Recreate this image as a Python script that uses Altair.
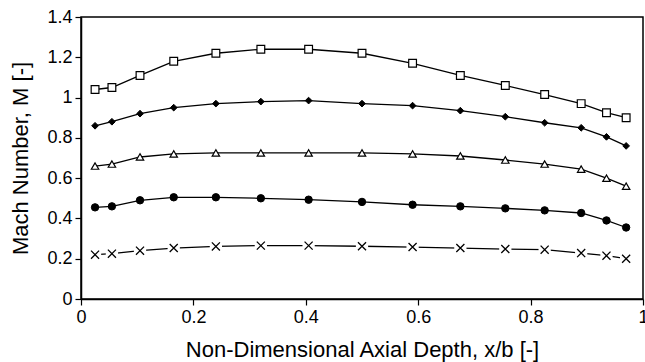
import altair as alt
import pandas as pd

# Axial positions of the measurement stations (x/b)
x_b = [0.025, 0.055, 0.105, 0.165, 0.24, 0.32, 0.405, 0.5,
       0.59, 0.675, 0.755, 0.825, 0.89, 0.935, 0.97]

# Mach number profiles, one per operating condition
mach_square = [1.04, 1.05, 1.11, 1.18, 1.22, 1.24, 1.24, 1.22,
               1.17, 1.11, 1.06, 1.015, 0.97, 0.925, 0.90]
mach_diamond = [0.86, 0.88, 0.92, 0.95, 0.97, 0.98, 0.985, 0.97,
                0.96, 0.935, 0.905, 0.875, 0.85, 0.805, 0.76]
mach_triangle = [0.66, 0.67, 0.705, 0.72, 0.725, 0.725, 0.725, 0.725,
                 0.72, 0.71, 0.69, 0.67, 0.645, 0.60, 0.56]
mach_circle = [0.455, 0.46, 0.49, 0.505, 0.505, 0.50, 0.493, 0.482,
               0.468, 0.46, 0.45, 0.44, 0.427, 0.39, 0.355]
mach_cross = [0.22, 0.225, 0.24, 0.253, 0.261, 0.265, 0.265, 0.262,
              0.258, 0.253, 0.248, 0.245, 0.228, 0.215, 0.20]

series = {
    "square": mach_square,
    "diamond": mach_diamond,
    "triangle": mach_triangle,
    "circle": mach_circle,
    "cross": mach_cross,
}

rows = []
for name, vals in series.items():
    for xv, mv in zip(x_b, vals):
        rows.append({"series": name, "x": xv, "M": mv})
df = pd.DataFrame(rows)

x_enc = alt.X("x:Q", scale=alt.Scale(domain=[0, 1], nice=False),
              axis=alt.Axis(values=[0, 0.2, 0.4, 0.6, 0.8, 1], format="~g",
                            title="Non-Dimensional Axial Depth, x/b [-]",
                            titlePadding=13))
y_enc = alt.Y("M:Q", scale=alt.Scale(domain=[0, 1.4], nice=False),
              axis=alt.Axis(values=[0, 0.2, 0.4, 0.6, 0.8, 1, 1.2, 1.4],
                            format="~g", title="Mach Number, M [-]",
                            titlePadding=14))

base = alt.Chart(df)

lines = base.mark_line(color="black", strokeWidth=1.3).encode(
    x=x_enc, y=y_enc, detail="series:N"
)

def pts(name, **mark):
    return base.transform_filter(alt.datum.series == name).mark_point(
        opacity=1, **mark
    ).encode(x="x:Q", y="M:Q")

x_shape = "M-1,-1L1,1M-1,1L1,-1"

layers = [
    lines,
    pts("square", shape="square", size=60, filled=True, fill="white",
        stroke="black", strokeWidth=1.2),
    pts("diamond", shape="diamond", size=45, filled=True, fill="black",
        stroke="black", strokeWidth=1),
    pts("triangle", shape="triangle-up", size=55, filled=True, fill="white",
        stroke="black", strokeWidth=1.2),
    pts("circle", shape="circle", size=55, filled=True, fill="black",
        stroke="black", strokeWidth=1),
    # white backing that opens a small gap in the line around each cross
    pts("cross", shape="square", size=150, filled=True, fill="white",
        strokeWidth=0),
    pts("cross", shape=x_shape, size=65, filled=False, stroke="black",
        strokeWidth=1.3),
]

chart = alt.layer(*layers).properties(
    width=562, height=282,
    autosize=alt.AutoSizeParams(type="none"),
    padding={"left": 81, "top": 17, "right": 2, "bottom": 63},
    background="white",
).configure(
    font="Liberation Sans"
).configure_view(
    stroke="black", strokeWidth=1.5
).configure_axis(
    grid=False, domainColor="black", domainWidth=1.5, tickColor="black",
    tickWidth=1.2, tickSize=6, labelPadding=3, labelFontSize=18,
    labelColor="black", titleFontSize=22, titleFontWeight="normal",
    titleColor="black", labelFlush=False, labelOverlap=False
)

chart.save("out.html", embed_options={"renderer": "svg", "actions": False})
